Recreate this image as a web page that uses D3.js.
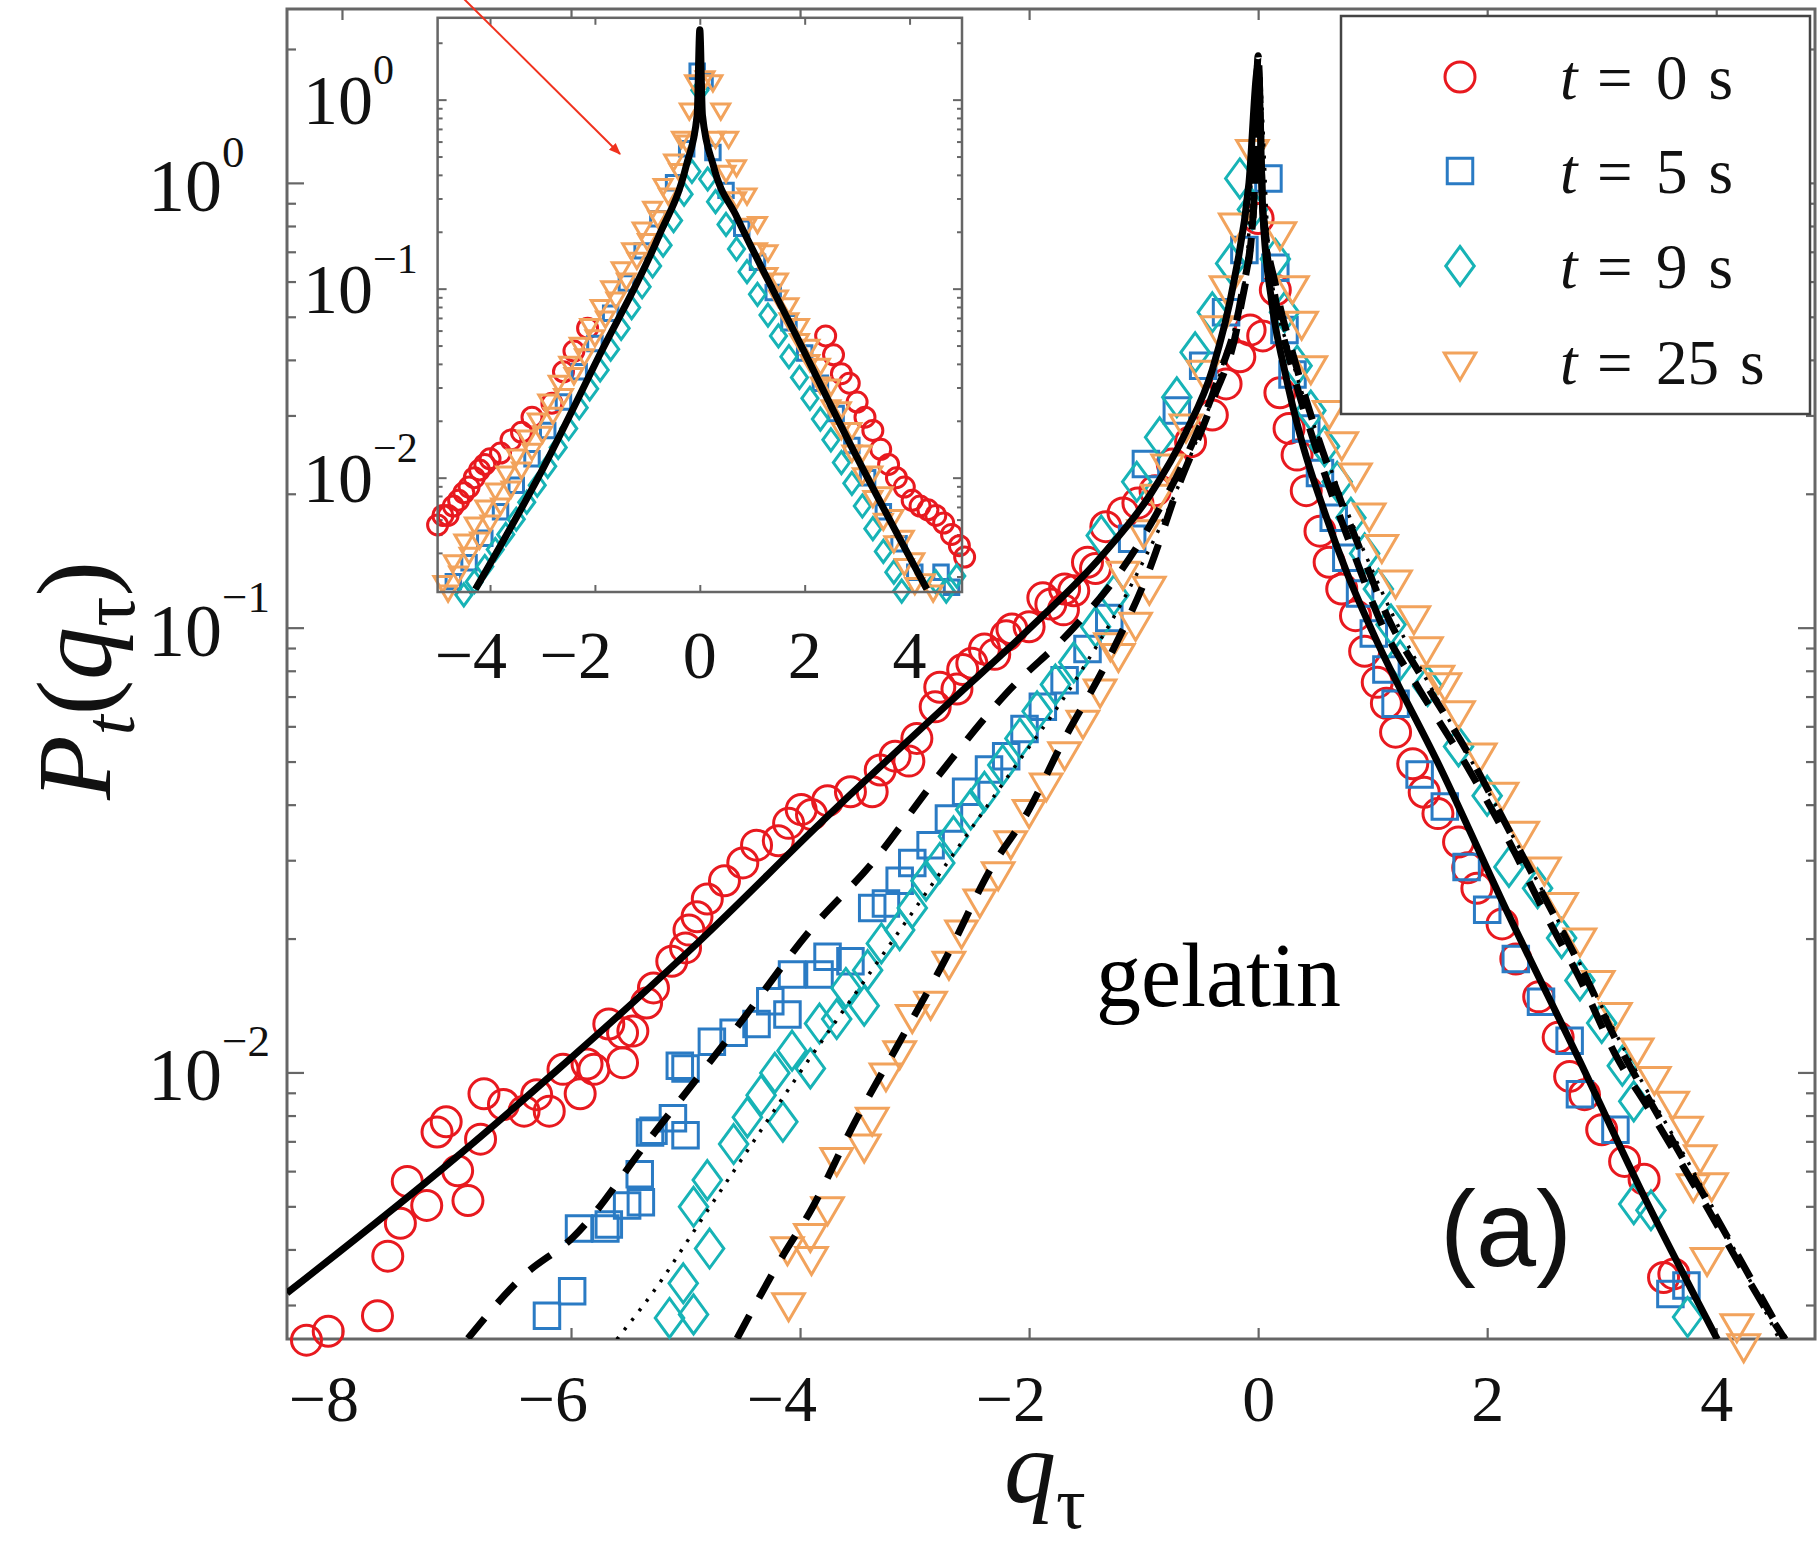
<!DOCTYPE html>
<html>
<head>
<meta charset="utf-8">
<script src="https://cdn.jsdelivr.net/npm/d3@7"></script>
<style>
  body { margin: 0; background: #fff; }
  svg { display: block; }
</style>
</head>
<body>
<script>
// values: [q_tau, log10 P]
var t0Main = [[-8.31,-2.602],[-8.12,-2.582],[-7.69,-2.547],[-7.60,-2.413],[-7.49,-2.339],[-7.43,-2.245],[-7.26,-2.299],
  [-7.17,-2.134],[-7.09,-2.111],[-6.99,-2.221],[-6.90,-2.288],[-6.79,-2.150],[-6.76,-2.048],[-6.59,-2.072],[-6.41,-2.087],
  [-6.30,-2.050],[-6.19,-2.087],[-6.07,-1.993],[-5.92,-2.048],[-5.86,-1.981],[-5.80,-1.993],[-5.67,-1.891],[-5.55,-1.978],
  [-5.55,-1.911],[-5.46,-1.907],[-5.34,-1.844],[-5.28,-1.810],[-5.12,-1.750],[-5.00,-1.720],[-4.97,-1.680],[-4.90,-1.650],
  [-4.81,-1.610],[-4.66,-1.569],[-4.50,-1.529],[-4.38,-1.489],[-4.19,-1.479],[-4.10,-1.440],[-3.99,-1.409],[-3.90,-1.420],
  [-3.76,-1.389],[-3.56,-1.369],[-3.37,-1.369],[-3.30,-1.320],[-3.17,-1.289],[-3.05,-1.300],[-2.98,-1.249],[-2.82,-1.178],
  [-2.78,-1.134],[-2.63,-1.138],[-2.58,-1.094],[-2.50,-1.080],[-2.39,-1.048],[-2.30,-1.060],[-2.20,-1.018],[-2.15,-1.003],
  [-2.00,-0.998],[-1.88,-0.933],[-1.81,-0.947],[-1.70,-0.960],[-1.69,-0.913],[-1.61,-0.917],[-1.49,-0.853],[-1.42,-0.867],
  [-1.33,-0.773],[-1.18,-0.742],[-1.05,-0.720],[-0.90,-0.692],[-0.75,-0.632],[-0.59,-0.582],[-0.40,-0.522],[-0.28,-0.452],
  [-0.16,-0.391],[-0.07,-0.331],[0.00,-0.080],[0.04,-0.344],[0.15,-0.241],[0.19,-0.472],[0.27,-0.552],[0.34,-0.612],
  [0.42,-0.692],[0.54,-0.783],[0.62,-0.853],[0.73,-0.913],[0.85,-0.973],[0.93,-1.053],[1.04,-1.123],[1.12,-1.170],
  [1.20,-1.235],[1.35,-1.306],[1.45,-1.370],[1.57,-1.418],[1.75,-1.482],[1.83,-1.540],[1.91,-1.586],[2.13,-1.666],
  [2.25,-1.745],[2.45,-1.830],[2.62,-1.921],[2.72,-2.009],[2.85,-2.050],[3.00,-2.129],[3.20,-2.200],[3.37,-2.240],
  [3.54,-2.461],[3.63,-2.453]];

var t5Main = [[-6.21,-2.547],[-5.99,-2.492],[-5.93,-2.351],[-5.70,-2.351],[-5.67,-2.342],[-5.51,-2.299],[-5.40,-2.229],
  [-5.39,-2.292],[-5.31,-2.135],[-5.28,-2.131],[-5.11,-2.103],[-5.05,-1.985],[-5.00,-2.141],[-5.00,-1.991],[-4.77,-1.931],
  [-4.58,-1.911],[-4.38,-1.891],[-4.26,-1.840],[-4.11,-1.870],[-4.07,-1.780],[-3.83,-1.780],[-3.76,-1.740],[-3.56,-1.750],
  [-3.37,-1.630],[-3.25,-1.620],[-3.13,-1.569],[-3.02,-1.529],[-2.86,-1.489],[-2.70,-1.429],[-2.55,-1.369],[-2.35,-1.319],
  [-2.20,-1.289],[-2.04,-1.228],[-1.88,-1.178],[-1.69,-1.118],[-1.49,-1.048],[-1.30,-0.978],[-1.10,-0.800],[-0.98,-0.632],
  [-0.71,-0.512],[-0.48,-0.411],[-0.28,-0.291],[-0.12,-0.151],[0.09,0.010],[0.15,-0.191],[0.23,-0.331],[0.30,-0.431],
  [0.42,-0.552],[0.54,-0.652],[0.66,-0.753],[0.77,-0.843],[0.89,-0.923],[1.01,-1.013],[1.12,-1.094],[1.20,-1.171],
  [1.41,-1.330],[1.63,-1.402],[1.82,-1.538],[2.00,-1.634],[2.25,-1.745],[2.47,-1.841],[2.72,-1.929],[2.81,-2.049],
  [3.12,-2.129],[3.60,-2.498],[3.74,-2.479]];

var t9Main = [[-5.14,-2.552],[-4.93,-2.544],[-5.02,-2.474],[-4.79,-2.396],[-4.93,-2.302],[-4.81,-2.242],[-4.58,-2.161],
  [-4.46,-2.101],[-4.34,-2.051],[-4.15,-2.111],[-4.22,-2.001],[-4.07,-1.951],[-3.91,-1.991],[-3.83,-1.890],[-3.68,-1.880],
  [-3.60,-1.810],[-3.44,-1.850],[-3.41,-1.770],[-3.29,-1.710],[-3.13,-1.680],[-3.02,-1.630],[-2.90,-1.569],[-2.78,-1.529],
  [-2.66,-1.469],[-2.51,-1.409],[-2.39,-1.369],[-2.23,-1.309],[-2.08,-1.249],[-1.93,-1.188],[-1.77,-1.128],[-1.61,-1.078],
  [-1.42,-0.998],[-1.37,-0.793],[-1.26,-0.927],[-1.06,-0.672],[-0.86,-0.572],[-0.71,-0.482],[-0.55,-0.381],[-0.40,-0.291],
  [-0.24,-0.181],[-0.16,0.010],[-0.05,-0.060],[0.15,-0.171],[0.23,-0.291],[0.34,-0.411],[0.46,-0.512],[0.58,-0.592],
  [0.69,-0.672],[0.81,-0.753],[0.93,-0.833],[1.05,-0.913],[1.16,-0.993],[1.24,-1.074],[1.48,-1.131],[1.75,-1.267],
  [2.00,-1.378],[2.19,-1.538],[2.44,-1.586],[2.65,-1.698],[2.81,-1.793],[3.00,-1.889],[3.18,-1.985],[3.28,-2.065],
  [3.28,-2.296],[3.43,-2.310],[3.75,-2.550]];

var t25Main = [[-4.10,-2.518],[-3.90,-2.414],[-4.11,-2.392],[-3.91,-2.362],[-3.76,-2.302],[-3.68,-2.191],[-3.44,-2.161],
  [-3.37,-2.101],[-3.25,-2.001],[-3.13,-1.951],[-3.02,-1.870],[-2.86,-1.840],[-2.70,-1.750],[-2.59,-1.680],[-2.43,-1.610],
  [-2.27,-1.549],[-2.16,-1.479],[-2.00,-1.409],[-1.85,-1.349],[-1.69,-1.279],[-1.53,-1.208],[-1.38,-1.138],[-1.29,-1.034],
  [-1.22,-1.058],[-1.18,-0.873],[-1.07,-0.988],[-1.00,-0.780],[-0.95,-0.907],[-0.88,-0.700],[-0.79,-0.632],[-0.63,-0.542],
  [-0.48,-0.421],[-0.36,-0.321],[-0.28,-0.231],[-0.20,-0.090],[-0.05,0.075],[0.19,-0.110],[0.30,-0.231],[0.38,-0.311],
  [0.46,-0.411],[0.62,-0.512],[0.73,-0.582],[0.85,-0.652],[0.97,-0.742],[1.08,-0.813],[1.20,-0.893],[1.36,-0.973],
  [1.47,-1.043],[1.57,-1.107],[1.63,-1.124],[1.75,-1.187],[1.94,-1.282],[2.13,-1.370],[2.31,-1.458],[2.50,-1.538],
  [2.65,-1.618],[2.81,-1.698],[2.97,-1.793],[3.12,-1.865],[3.31,-1.945],[3.46,-2.009],[3.62,-2.065],[3.74,-2.121],
  [3.80,-2.250],[3.86,-2.185],[3.92,-2.416],[3.96,-2.248],[4.18,-2.565],[4.24,-2.610]];

// fitted curves in the main panel
var fitT0 = [[-8.48,-2.496],[-7.0,-2.19],[-6.1,-1.99],[-5.43,-1.836],[-4.9,-1.71],[-3.76,-1.424],[-2.67,-1.162],
  [-1.96,-0.993],[-1.37,-0.84],[-0.94,-0.70],[-0.63,-0.56],[-0.40,-0.42],[-0.21,-0.22],[-0.08,0.0],[0,0.261],
  [0.04,-0.06],[0.12,-0.27],[0.23,-0.42],[0.38,-0.58],[0.58,-0.74],[0.77,-0.873],[1.0,-1.01],[1.6,-1.32],
  [2.19,-1.647],[2.8,-1.97],[3.37,-2.279],[4.01,-2.60]];
var fitT5 = [[-6.9,-2.598],[-6.41,-2.456],[-5.98,-2.37],[-5.3,-2.145],[-4.53,-1.891],[-3.91,-1.68],[-3.37,-1.529],
  [-2.78,-1.329],[-2.2,-1.148],[-1.61,-1.0],[-1.22,-0.88],[-0.9,-0.75],[-0.6,-0.6],[-0.35,-0.44],[-0.15,-0.26],
  [-0.04,-0.06],[0,0.286],[0.04,-0.06],[0.15,-0.26],[0.30,-0.421],[0.50,-0.592],[0.66,-0.712],[0.85,-0.843],
  [1.08,-0.993],[1.41,-1.14],[1.82,-1.31],[2.19,-1.48],[2.5,-1.64],[2.81,-1.79],[3.12,-1.96],[3.43,-2.09],
  [3.80,-2.25],[4.5,-2.56],[4.6,-2.6]];
var fitT9 = [[-5.6,-2.6],[-5.18,-2.456],[-5.06,-2.409],[-4.6,-2.23],[-4.0,-2.0],[-3.4,-1.78],[-2.8,-1.56],[-2.2,-1.34],
  [-1.6,-1.12],[-1.1,-0.9],[-0.6,-0.62],[-0.3,-0.4],[-0.1,-0.18],[0,0.28],[0.1,-0.18],[0.3,-0.4],[0.6,-0.62],
  [1.1,-0.93],[1.8,-1.27],[2.5,-1.6],[3.2,-1.95],[3.9,-2.27],[4.55,-2.6]];
var fitT25 = [[-4.55,-2.598],[-4.15,-2.412],[-3.91,-2.312],[-3.52,-2.111],[-3.13,-1.931],[-2.70,-1.730],[-2.35,-1.549],
  [-2.00,-1.409],[-1.73,-1.269],[-1.30,-1.067],[-0.94,-0.863],[-0.71,-0.692],[-0.40,-0.492],[-0.16,-0.291],[-0.04,-0.06],
  [0,0.286],[0.04,-0.05],[0.16,-0.24],[0.32,-0.40],[0.52,-0.57],[0.70,-0.70],[0.9,-0.83],[1.12,-0.97],[1.45,-1.12],
  [1.85,-1.29],[2.2,-1.46],[2.55,-1.63],[2.85,-1.78],[3.15,-1.94],[3.5,-2.1],[3.9,-2.28],[4.6,-2.6]];

// inset (rescaled data)
var t0Inset = [[-5.0,-2.25],[-4.9,-2.2],[-4.8,-2.2],[-4.7,-2.15],[-4.6,-2.12],[-4.5,-2.08],[-4.4,-2.05],[-4.3,-2.0],
  [-4.2,-1.96],[-4.1,-1.93],[-4.0,-1.9],[-3.8,-1.87],[-3.6,-1.8],[-3.4,-1.76],[-3.2,-1.68],[-2.82,-1.606],[-2.6,-1.44],
  [-2.4,-1.33],[-2.14,-1.209],[2.4,-1.25],[2.55,-1.35],[2.7,-1.45],[2.85,-1.5],[3.0,-1.6],[3.15,-1.68],[3.3,-1.75],
  [3.45,-1.85],[3.6,-1.93],[3.75,-2.0],[3.9,-2.05],[4.05,-2.12],[4.2,-2.15],[4.35,-2.17],[4.5,-2.2],[4.65,-2.24],
  [4.8,-2.3],[4.95,-2.36],[5.05,-2.42]];
var t5Inset = [[-4.7,-2.55],[-4.4,-2.45],[-4.1,-2.32],[-3.8,-2.18],[-3.5,-2.04],[-3.2,-1.9],[-2.9,-1.75],[-2.6,-1.6],
  [-2.3,-1.44],[-2.0,-1.29],[-1.7,-1.13],[-1.4,-0.97],[-1.1,-0.8],[-0.8,-0.63],[-0.5,-0.44],[-0.25,-0.26],[-0.05,0.15],
  [0.1,0.1],[0.25,-0.28],[0.5,-0.48],[0.8,-0.68],[1.1,-0.86],[1.4,-1.02],[1.7,-1.18],[2.0,-1.34],[2.3,-1.5],
  [2.6,-1.66],[2.9,-1.83],[3.2,-2.0],[3.5,-2.18],[3.8,-2.35],[4.1,-2.5],[4.6,-2.5],[4.8,-2.58]];
var t9Inset = [[-4.5,-2.62],[-4.3,-2.55],[-4.1,-2.47],[-3.9,-2.38],[-3.7,-2.3],[-3.5,-2.22],[-3.3,-2.13],[-3.1,-2.04],
  [-2.9,-1.94],[-2.7,-1.84],[-2.5,-1.74],[-2.3,-1.63],[-2.1,-1.53],[-1.9,-1.43],[-1.7,-1.32],[-1.5,-1.21],[-1.3,-1.1],
  [-1.1,-0.99],[-0.9,-0.88],[-0.7,-0.77],[-0.5,-0.64],[-0.3,-0.5],[-0.15,-0.38],[0,0.05],[0.15,-0.42],[0.3,-0.54],
  [0.5,-0.66],[0.7,-0.79],[0.9,-0.91],[1.1,-1.03],[1.3,-1.14],[1.5,-1.25],[1.7,-1.36],[1.9,-1.47],[2.1,-1.58],
  [2.3,-1.69],[2.5,-1.8],[2.7,-1.92],[2.9,-2.03],[3.1,-2.15],[3.3,-2.27],[3.5,-2.39],[3.7,-2.5],[3.85,-2.6],
  [4.5,-2.55],[4.7,-2.6],[4.9,-2.52]];
var t25Inset = [[-4.9,-2.55],[-4.7,-2.44],[-4.5,-2.33],[-4.3,-2.24],[-4.1,-2.15],[-3.9,-2.06],[-3.7,-1.97],[-3.5,-1.88],
  [-3.3,-1.78],[-3.1,-1.69],[-2.9,-1.59],[-2.7,-1.49],[-2.5,-1.39],[-2.3,-1.29],[-2.1,-1.19],[-1.9,-1.09],[-1.7,-0.99],
  [-1.5,-0.89],[-1.3,-0.79],[-1.1,-0.68],[-0.9,-0.57],[-0.7,-0.45],[-0.5,-0.32],[-0.35,-0.2],[-0.2,-0.05],[-0.1,0.1],
  [-4.8,-2.6],[-4.6,-2.5],[-4.4,-2.4],[-4.2,-2.32],[-4.0,-2.23],[-3.8,-2.14],[-3.6,-2.05],[-3.4,-1.95],[-3.2,-1.85],
  [-3.0,-1.76],[-2.8,-1.66],[-2.6,-1.56],[-2.4,-1.45],[-2.2,-1.35],[-2.0,-1.25],[-1.8,-1.15],[-1.6,-1.05],[-1.4,-0.95],
  [-1.2,-0.84],[-1.0,-0.74],[-0.8,-0.62],[-0.6,-0.5],[-0.4,-0.37],[-0.25,-0.22],
  [0.1,0.12],[0.25,0.1],[0.4,-0.05],[0.55,-0.2],[0.7,-0.35],[0.9,-0.5],[1.1,-0.65],[1.3,-0.8],[1.5,-0.95],[1.7,-1.08],
  [1.9,-1.19],[2.1,-1.3],[2.3,-1.4],[2.5,-1.51],[2.7,-1.63],[2.9,-1.74],[3.1,-1.86],[3.3,-1.97],[3.5,-2.08],[3.7,-2.2],
  [3.9,-2.31],[4.1,-2.43],[4.3,-2.54],[4.45,-2.6],
  [0.3,-0.2],[0.5,-0.38],[0.7,-0.52],[0.9,-0.66],[1.1,-0.79],[1.3,-0.92],[1.5,-1.04],[1.7,-1.16],[1.9,-1.27],[2.1,-1.38],
  [2.3,-1.5],[2.5,-1.62],[2.7,-1.74],[2.9,-1.86],[3.1,-1.98],[3.3,-2.1],[3.5,-2.22],[3.7,-2.34],[3.9,-2.46],[4.1,-2.56]];
var fitInset = [[-4.28,-2.59],[-3.05,-1.983],[-1.92,-1.356],[-0.79,-0.727],[-0.26,-0.351],[-0.05,-0.08],[0,0.37],
  [0.05,-0.08],[0.26,-0.351],[0.71,-0.623],[1.84,-1.25],[2.97,-1.878],[4.33,-2.59]];

var times = ["0", "5", "9", "25"];
var colors = ["#e8191f", "#2a7bc4", "#17b3b6", "#f2a35c"];
var shapes = ["circle", "square", "diamond", "triangle"];
var mainTicksX = [-8, -6, -4, -2, 0, 2, 4];
var insetTicksX = [-4, -2, 0, 2, 4];

var series = times.map(function(t, i) {
  return { t: t, color: colors[i], shape: shapes[i],
    main: [t0Main, t5Main, t9Main, t25Main][i],
    inset: [t0Inset, t5Inset, t9Inset, t25Inset][i] };
});

var serif = "'Liberation Serif', 'Times New Roman', serif";
var sans = "'Liberation Sans', Arial, sans-serif";
var axisGray = "#666";

var svg = d3.select("body").append("svg").attr("width", 1817).attr("height", 1548);

function shapePath(kind, s) {
  if (kind == "circle") return "M" + (-s) + ",0A" + s + "," + s + " 0 1,0 " + s + ",0A" + s + "," + s + " 0 1,0 " + (-s) + ",0Z";
  if (kind == "square") { var h = s * 0.85; return "M" + (-h) + "," + (-h) + "H" + h + "V" + h + "H" + (-h) + "Z"; }
  if (kind == "diamond") return "M0," + (-s * 1.3) + "L" + (s * 0.95) + ",0L0," + (s * 1.3) + "L" + (-s * 0.95) + ",0Z";
  return "M" + (-s * 1.05) + "," + (-s * 0.6) + "L" + (s * 1.05) + "," + (-s * 0.6) + "L0," + (s * 1.2) + "Z";
}

function powLabel(g, x, y, exp, fs, sfs, raise) {
  var t = g.append("text").attr("x", x).attr("y", y)
    .attr("font-family", serif).attr("font-size", fs).attr("fill", "#111");
  t.append("tspan").text("10");
  t.append("tspan").attr("font-size", sfs).attr("dy", -raise).text(exp < 0 ? "\u2212" + (-exp) : String(exp));
}

function isDecade(v) { var l = Math.log10(v); return Math.abs(l - Math.round(l)) < 1e-6; }

// ---------------- main panel ----------------
var x = d3.scaleLinear().domain([-8.48, 4.88]).range([287, 1817]);
var y = d3.scaleLog().domain([0.002516, 2.46]).range([1339, 9]);

svg.append("clipPath").attr("id", "mainClip").append("rect")
  .attr("x", 287).attr("y", 9).attr("width", 1530).attr("height", 1330);

var main = svg.append("g").attr("class", "main");

var yTicks = y.ticks();
var yMajor = yTicks.filter(isDecade), yMinor = yTicks.filter(function(v) { return !isDecade(v); });

function styleAxis(g) {
  g.select(".domain").remove();
  g.selectAll(".tick line").attr("stroke", axisGray).attr("stroke-width", 2.2);
}
main.append("g").attr("transform", "translate(0,1339)")
  .call(d3.axisBottom(x).tickValues(mainTicksX).tickSize(-11).tickFormat("")).call(styleAxis);
main.append("g").attr("transform", "translate(0,9)")
  .call(d3.axisTop(x).tickValues(mainTicksX).tickSize(-11).tickFormat("")).call(styleAxis);
main.append("g").attr("transform", "translate(287,0)")
  .call(d3.axisLeft(y).tickValues(yMajor).tickSize(-17).tickFormat("")).call(styleAxis);
main.append("g").attr("transform", "translate(287,0)")
  .call(d3.axisLeft(y).tickValues(yMinor).tickSize(-9).tickFormat("")).call(styleAxis);
main.append("g").attr("transform", "translate(1815,0)")
  .call(d3.axisRight(y).tickValues(yMajor).tickSize(-17).tickFormat("")).call(styleAxis);
main.append("g").attr("transform", "translate(1815,0)")
  .call(d3.axisRight(y).tickValues(yMinor).tickSize(-9).tickFormat("")).call(styleAxis);

main.append("rect").attr("x", 287).attr("y", 9).attr("width", 1528).attr("height", 1330)
  .attr("fill", "none").attr("stroke", axisGray).attr("stroke-width", 3);

mainTicksX.forEach(function(v) {
  main.append("text").attr("x", x(v) + 17).attr("y", 1421)
    .attr("text-anchor", "end").attr("font-family", serif).attr("font-size", 66).attr("fill", "#111")
    .text(v < 0 ? "\u2212" + (-v) : String(v));
});
yMajor.forEach(function(v) {
  powLabel(main, 148, y(v) + 28, Math.round(Math.log10(v)), 74, 45, 44);
});

// markers
series.forEach(function(s) {
  main.append("g").selectAll("path").data(s.main).enter().append("path")
    .attr("d", shapePath(s.shape, 15))
    .attr("transform", function(d) { return "translate(" + x(d[0]) + "," + y(Math.pow(10, d[1])) + ")"; })
    .attr("fill", "none").attr("stroke", s.color).attr("stroke-width", 3);
});

var lineMain = d3.line()
  .x(function(d) { return x(d[0]); })
  .y(function(d) { return y(Math.pow(10, d[1])); })
  .curve(d3.curveMonotoneX);

var fits = main.append("g").attr("clip-path", "url(#mainClip)").attr("fill", "none").attr("stroke", "#000");
fits.append("path").attr("d", lineMain(fitT9)).attr("stroke-width", 3.5).attr("stroke-dasharray", "3,9");
fits.append("path").attr("d", lineMain(fitT5)).attr("stroke-width", 7).attr("stroke-dasharray", "26,20");
fits.append("path").attr("d", lineMain(fitT25)).attr("stroke-width", 7).attr("stroke-dasharray", "26,20");
fits.append("path").attr("d", lineMain(fitT0)).attr("stroke-width", 7);

// axis titles
var xt = svg.append("text").attr("x", 1004).attr("y", 1502).attr("font-family", serif).attr("fill", "#111");
xt.append("tspan").attr("font-size", 104).attr("font-style", "italic").text("q");
xt.append("tspan").attr("font-size", 74).attr("dy", 26).text("\u03c4");

var yt = svg.append("text").attr("transform", "translate(110,800) rotate(-90)")
  .attr("font-family", serif).attr("fill", "#111").attr("font-size", 106);
yt.append("tspan").attr("font-style", "italic").text("P");
yt.append("tspan").attr("font-style", "italic").attr("font-size", 72).attr("dy", 24).text("t");
yt.append("tspan").attr("dy", -24).text("(");
yt.append("tspan").attr("font-style", "italic").text("q");
yt.append("tspan").attr("font-size", 76).attr("dy", 24).text("\u03c4");
yt.append("tspan").attr("dy", -24).text(")");

svg.append("text").attr("x", 1096).attr("y", 1006).attr("font-family", serif).attr("font-size", 90)
  .attr("fill", "#000").text("gelatin");
svg.append("text").attr("x", 1440).attr("y", 1266).attr("font-family", sans).attr("font-size", 108)
  .attr("fill", "#111").text("(a)");

// ---------------- inset ----------------
var xi = d3.scaleLinear().domain([-5, 5]).range([437.6, 962]);
var yi = d3.scaleLog().domain([0.002484, 2.71]).range([592, 17.8]);

svg.append("clipPath").attr("id", "insetClip").append("rect")
  .attr("x", 437.6).attr("y", 17.8).attr("width", 524.4).attr("height", 574.2);

var inset = svg.append("g").attr("class", "inset");
inset.append("rect").attr("x", 437.6).attr("y", 17.8).attr("width", 524.4).attr("height", 574.2).attr("fill", "#fff");

var yiTicks = yi.ticks();
var yiMajor = yiTicks.filter(isDecade), yiMinor = yiTicks.filter(function(v) { return !isDecade(v); });
inset.append("g").attr("transform", "translate(0,592)")
  .call(d3.axisBottom(xi).tickValues(insetTicksX).tickSize(-7).tickFormat("")).call(styleAxis);
inset.append("g").attr("transform", "translate(0,17.8)")
  .call(d3.axisTop(xi).tickValues(insetTicksX).tickSize(-7).tickFormat("")).call(styleAxis);
inset.append("g").attr("transform", "translate(437.6,0)")
  .call(d3.axisLeft(yi).tickValues(yiMajor).tickSize(-9).tickFormat("")).call(styleAxis);
inset.append("g").attr("transform", "translate(437.6,0)")
  .call(d3.axisLeft(yi).tickValues(yiMinor).tickSize(-5).tickFormat("")).call(styleAxis);
inset.append("g").attr("transform", "translate(962,0)")
  .call(d3.axisRight(yi).tickValues(yiMajor).tickSize(-9).tickFormat("")).call(styleAxis);
inset.append("g").attr("transform", "translate(962,0)")
  .call(d3.axisRight(yi).tickValues(yiMinor).tickSize(-5).tickFormat("")).call(styleAxis);
inset.selectAll(".tick line").attr("stroke-width", 2);

insetTicksX.forEach(function(v) {
  inset.append("text").attr("x", xi(v) + 17).attr("y", 678)
    .attr("text-anchor", "end").attr("font-family", serif).attr("font-size", 68).attr("fill", "#111")
    .text(v < 0 ? "\u2212" + (-v) : String(v));
});
yiMajor.forEach(function(v) {
  powLabel(inset, 303, yi(v) + 24, Math.round(Math.log10(v)), 70, 42, 40);
});

series.forEach(function(s) {
  inset.append("g").selectAll("path").data(s.inset).enter().append("path")
    .attr("d", shapePath(s.shape, s.shape == "circle" ? 10 : 8.5))
    .attr("transform", function(d) { return "translate(" + xi(d[0]) + "," + yi(Math.pow(10, d[1])) + ")"; })
    .attr("fill", "none").attr("stroke", s.color).attr("stroke-width", 3);
});

var lineInset = d3.line()
  .x(function(d) { return xi(d[0]); })
  .y(function(d) { return yi(Math.pow(10, d[1])); })
  .curve(d3.curveMonotoneX);
inset.append("path").attr("d", lineInset(fitInset)).attr("clip-path", "url(#insetClip)")
  .attr("fill", "none").attr("stroke", "#000").attr("stroke-width", 7);

inset.append("rect").attr("x", 437.6).attr("y", 17.8).attr("width", 524.4).attr("height", 574.2)
  .attr("fill", "none").attr("stroke", axisGray).attr("stroke-width", 2.5);

// ---------------- legend ----------------
var legend = svg.append("g").attr("class", "legend");
legend.append("rect").attr("x", 1341).attr("y", 16).attr("width", 469).attr("height", 398)
  .attr("fill", "#fff").attr("stroke", "#444").attr("stroke-width", 2.5);
var legendY = [77, 171, 266, 362];
series.forEach(function(s, i) {
  legend.append("path").attr("d", shapePath(s.shape, 15))
    .attr("transform", "translate(1460," + legendY[i] + ")")
    .attr("fill", "none").attr("stroke", s.color).attr("stroke-width", 3);
  var tx = legend.append("text").attr("y", legendY[i] + 22).attr("font-family", serif)
    .attr("font-size", 63).attr("fill", "#111");
  tx.append("tspan").attr("x", 1560).attr("font-style", "italic").text("t");
  tx.append("tspan").attr("x", 1597).text("=");
  tx.append("tspan").attr("x", 1656).text(s.t);
  tx.append("tspan").attr("dx", 21).text("s");
});

// red pointer arrow
var defs = svg.append("defs");
defs.append("marker").attr("id", "arrowHead").attr("viewBox", "0 0 10 10").attr("refX", 9).attr("refY", 5)
  .attr("markerWidth", 6).attr("markerHeight", 6).attr("orient", "auto")
  .append("path").attr("d", "M0,1L10,5L0,9Z").attr("fill", "#f0321e");
svg.append("line").attr("x1", 463).attr("y1", -2).attr("x2", 620).attr("y2", 154)
  .attr("stroke", "#f0321e").attr("stroke-width", 2).attr("marker-end", "url(#arrowHead)");
</script>
</body>
</html>
